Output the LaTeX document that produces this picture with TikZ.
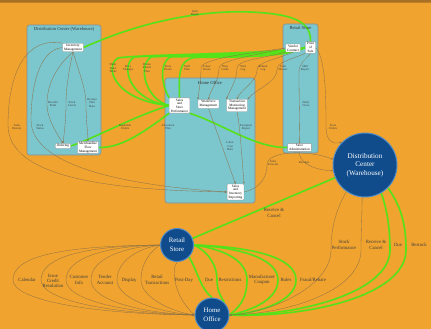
\documentclass[tikz,border=0pt]{standalone}
\usepackage{fontspec}
\setmainfont{Liberation Serif}
\usetikzlibrary{arrows.meta}
\definecolor{bgor}{RGB}{240,163,46}
\definecolor{band}{RGB}{168,112,36}
\definecolor{clus}{RGB}{124,198,206}
\definecolor{circ}{RGB}{16,76,140}
\definecolor{ring}{RGB}{80,140,200}
\definecolor{grn}{RGB}{84,226,24}
\definecolor{thn}{RGB}{140,112,72}
\pgfdeclarelayer{bg}
\pgfdeclarelayer{edges}
\pgfsetlayers{bg,edges,main}
\begin{document}
\begin{tikzpicture}[x=1pt,y=-1pt,
  every node/.style={inner sep=0pt},
  cluster/.style={draw=black!45, fill=clus, rounded corners=2.5pt, line width=0.6pt},
  ctitle/.style={font=\fontsize{4.6}{5}\selectfont, text=black!80},
  box/.style={draw=black!40, fill=white, rounded corners=0.8pt, line width=0.3pt, align=center, font=\fontsize{3.4}{3.7}\selectfont, inner xsep=1.6pt, inner ysep=0.9pt},
  elab/.style={align=center, font=\fontsize{3}{3.3}\selectfont, text=black!75},
  blab/.style={align=center, font=\fontsize{4.8}{5.3}\selectfont, text=black!75},
  hub/.style={circle, draw=ring, fill=circ, line width=1pt, text=white, align=center},
  gedge/.style={draw=grn, line width=1.6pt},
  tedge/.style={draw=thn, line width=0.32pt, -{Stealth[length=2.2pt,width=1.6pt]}},
]
\begin{pgfonlayer}{bg}
\fill[bgor] (0,0) rectangle (431,329);
\fill[band] (0,0) rectangle (431,2.2);
\fill[band!70!bgor] (0,2.2) rectangle (431,3.4);
\end{pgfonlayer}
\useasboundingbox (0,0) rectangle (431,329);

% clusters
\begin{pgfonlayer}{bg}
\node[cluster, minimum width=74pt, minimum height=130pt] (dcc) at (64,90) {};
\node[cluster, minimum width=90pt, minimum height=125pt] (hoc) at (210,140.5) {};
\node[cluster, minimum width=35pt, minimum height=129pt] (rsc) at (300.5,88.5) {};
\end{pgfonlayer}
\node[ctitle] (dcct) at (64,29.5) {Distribution Center (Warehouse)};
\node[ctitle] (hoct) at (210,83) {Home Office};
\node[ctitle] (rsct) at (300.5,28) {Retail Store};

% boxes
\node[box] (inv) at (73,47.5) {Inventory\\Management};
\node[box] (ord) at (63,146) {Ordering};
\node[box] (mfm) at (88,147.5) {Merchandise\\Flow\\Management};
\node[box] (sales) at (179.5,105.5) {Sales\\and\\Store\\Performance};
\node[box] (wfm) at (208.5,104) {Workforce\\Management};
\node[box] (tmm) at (237,105.5) {Transaction\\Monitoring\\Management};
\node[box] (sir) at (235.5,192) {Sales\\and\\Inventory\\Reporting};
\node[box] (vc) at (293,48) {Vendor\\Contract};
\node[box] (pos) at (310.5,47.5) {Point\\of\\Sale};
\node[box] (sa) at (299.5,147.5) {Store\\Administration};

% hubs
\node[hub, minimum size=64pt, font=\fontsize{7.2}{8.6}\selectfont] (dc) at (365,165) {Distribution\\Center\\(Warehouse)};
\node[hub, minimum size=33pt, font=\fontsize{6.8}{9}\selectfont] (rs) at (177,245) {Retail\\Store};
\node[hub, minimum size=34pt, font=\fontsize{6.8}{9}\selectfont] (ho) at (212,315) {Home\\Office};

% edge labels (upper area)
\node[elab] (lt) at (195,13) {Item\\Master};
\node[elab] (l1) at (113,68) {Daily\\Sales\\Totals};
\node[elab] (l2) at (128,68) {Price\\Changes};
\node[elab] (l3) at (147,68) {Promo\\Events\\Plan};
\node[elab] (l4) at (168,68) {Store\\Hours};
\node[elab] (l5) at (187,68) {Staff\\Plan};
\node[elab] (l6) at (207,68) {Labor\\Hours};
\node[elab] (l7) at (225,68) {Time\\Cards};
\node[elab] (l8) at (243,68) {Void\\Log};
\node[elab] (l9) at (263,68) {Refund\\Log};
\node[elab] (l10) at (283,68) {Cash\\Drawer};
\node[elab] (l11) at (305,68) {Shift\\Report};
\node[elab] (l12) at (306,104) {Daily\\Close};
\node[elab] (l13) at (333,127) {Store\\Orders};
\node[elab] (l14) at (53,104) {Reorder\\Point};
\node[elab] (l15) at (72,104) {Stock\\Levels};
\node[elab] (l16) at (92,103) {Receipt\\Plan\\Data};
\node[elab] (l17) at (17,127) {Sales\\History};
\node[elab] (l18) at (40,127) {Stock\\Status};
\node[elab] (l19) at (125,127) {Replenish\\Orders};
\node[elab] (l20) at (168,127) {Allocation\\Plan};
\node[elab] (l21) at (230,146) {Labor\\Cost\\Data};
\node[elab] (l22) at (246,127) {Exception\\Report};
\node[elab] (l23) at (273,163) {Sales\\Forecast};
\node[elab] (l24) at (304,163) {Receipts};

% edge labels (lower area)
\node[blab] (b1) at (27,280) {Calendar};
\node[blab] (b2) at (53,281) {Issue\\Credit\\Resolution};
\node[blab] (b3) at (79,280) {Customer\\Info};
\node[blab] (b4) at (105,280) {Tender\\Account};
\node[blab] (b5) at (129,280) {Display};
\node[blab] (b6) at (157,280) {Retail\\Transactions};
\node[blab] (b7) at (184,280) {Post-Day};
\node[blab] (b8) at (209,280) {Due};
\node[blab] (b9) at (230,280) {Restrictions};
\node[blab] (b10) at (262,280) {Manufacturer\\Coupon};
\node[blab] (b11) at (286,280) {Rules};
\node[blab] (b12) at (313,280) {Fraud/Rebate};
\node[blab] (r1) at (344,245) {Stock\\Performance};
\node[blab] (r2) at (376,245) {Receive \&\\Cancel};
\node[blab] (r3) at (398,245) {Due};
\node[blab] (r4) at (419,245) {Restock};
\node[blab] (m1) at (274,213) {Receive \&\\Cancel};

\begin{pgfonlayer}{edges}
% green edges
\draw[gedge] (inv.east) .. controls (140,22) and (200,10) .. (250,12) .. controls (295,14) and (311,22) .. (pos.north);
\draw[gedge] (sales.west) .. controls (113,100) and (104,66) .. (118,58) .. controls (140,54) and (280,54) .. (pos.west);
\draw[gedge] (sales.west) .. controls (129,100) and (120,66) .. (134,57) .. controls (160,55) and (280,55) .. (pos.west);
\draw[gedge] (sales.west) .. controls (146,100) and (137,66) .. (151,57) .. controls (180,55) and (280,56) .. (pos.west);
\draw[gedge] (sales.north west) .. controls (164,90) and (157,66) .. (170,57) .. controls (200,56) and (280,57) .. (pos.west);
\draw[gedge] (sales.north) .. controls (179,75) and (178,60) .. (195,57.5) .. controls (230,57) and (285,58) .. (pos.west);
\draw[gedge] (sales.west) .. controls (130,118) and (95,138) .. (ord.east);
\draw[gedge] (sales.south west) .. controls (140,135) and (120,148) .. (mfm.east);
\draw[gedge] (sales.south east) .. controls (225,125) and (255,148) .. (sa.west);
\draw[gedge] (dc.203) -- (rs.23);
\draw[gedge] (rs.south east) .. controls (198,272) and (200,288) .. (ho.north);
\draw[gedge] (rs.east) .. controls (205,250) and (217,262) .. (217,280) .. controls (217,292) and (222,298) .. (ho.north east);
\draw[gedge] (rs.east) .. controls (228,250) and (247,262) .. (247,280) .. controls (247,300) and (238,308) .. (ho.east);
\draw[gedge] (rs.east) .. controls (245,248) and (278,260) .. (278,280) .. controls (278,302) and (245,312) .. (ho.east);
\draw[gedge] (rs.east) .. controls (255,247) and (296,258) .. (296,280) .. controls (296,304) and (250,314) .. (ho.east);
\draw[gedge] (dc.300) .. controls (388,212) and (390,232) .. (390,250) .. controls (390,292) and (300,316) .. (ho.east);
\draw[gedge] (dc.315) .. controls (404,210) and (406,232) .. (406,250) .. controls (406,295) and (310,318) .. (ho.east);

% thin edges
\draw[tedge] (dc.235) .. controls (333,215) and (331,235) .. (331,250) .. controls (331,285) and (275,312) .. (ho.east);
\draw[tedge] (dc.265) .. controls (362,215) and (361,235) .. (361,250) .. controls (361,292) and (285,314) .. (ho.east);
\draw[tedge] (rs.west) .. controls (53,246) and (13,258) .. (13,280) .. controls (13,300) and (90,314) .. (ho.west);
\draw[tedge] (rs.west) .. controls (81,246) and (41,258) .. (41,280) .. controls (41,300) and (110,314) .. (ho.west);
\draw[tedge] (rs.west) .. controls (106,246) and (66,258) .. (66,280) .. controls (66,300) and (125,313) .. (ho.west);
\draw[tedge] (rs.west) .. controls (125,247) and (91,258) .. (91,280) .. controls (91,300) and (140,313) .. (ho.west);
\draw[tedge] (rs.west) .. controls (140,248) and (117,260) .. (117,280) .. controls (117,298) and (155,312) .. (ho.west);
\draw[tedge] (rs.west) .. controls (152,250) and (141,262) .. (141,280) .. controls (141,296) and (168,311) .. (ho.west);
\draw[tedge] (rs.south) .. controls (171,270) and (174,296) .. (ho.west);
\draw[tedge] (inv.south) .. controls (52,70) and (47,90) .. (47,104) .. controls (47,120) and (58,135) .. (ord.north);
\draw[tedge] (inv.south) .. controls (68,75) and (66,90) .. (66,104) .. controls (66,120) and (64,135) .. (ord.north);
\draw[tedge] (inv.south) .. controls (80,75) and (86,90) .. (86,104) .. controls (86,120) and (88,135) .. (mfm.north);
\draw[tedge] (inv.west) .. controls (38,50) and (31,90) .. (31,120) .. controls (31,165) and (120,185) .. (sir.west);
\draw[tedge] (inv.north west) .. controls (22,36) and (8,80) .. (8,125) .. controls (8,178) and (110,190) .. (sir.west);
\draw[tedge] (wfm.south) -- (sir.north);
\draw[tedge] (tmm.south) .. controls (240,125) and (242,160) .. (sir.north east);
\draw[tedge] (vc.west) .. controls (260,52) and (201,58) .. (201,68) .. controls (201,80) and (199,90) .. (wfm.north west);
\draw[tedge] (vc.west) .. controls (262,54) and (219,60) .. (219,68) .. controls (219,82) and (210,90) .. (wfm.north);
\draw[tedge] (vc.south west) .. controls (265,58) and (237,60) .. (237,68) .. controls (237,80) and (230,90) .. (tmm.north west);
\draw[tedge] (vc.south) .. controls (275,60) and (257,62) .. (257,70) .. controls (257,82) and (240,90) .. (tmm.north);
\draw[tedge] (pos.south west) .. controls (290,60) and (277,62) .. (277,70) .. controls (277,82) and (255,90) .. (tmm.north east);
\draw[tedge] (pos.south) .. controls (306,60) and (299,62) .. (299,72) .. controls (299,100) and (300,130) .. (sa.north);
\draw[tedge] (pos.east) .. controls (326,60) and (326,100) .. (326,127) .. controls (326,140) and (332,145) .. (dc.north west);
\draw[tedge] (sir.east) .. controls (262,188) and (267,175) .. (267,165) .. controls (267,150) and (310,150) .. (dc.170);
\draw[tedge] (sa.south) .. controls (298,160) and (310,170) .. (dc.190);
\end{pgfonlayer}
\end{tikzpicture}
\end{document}
